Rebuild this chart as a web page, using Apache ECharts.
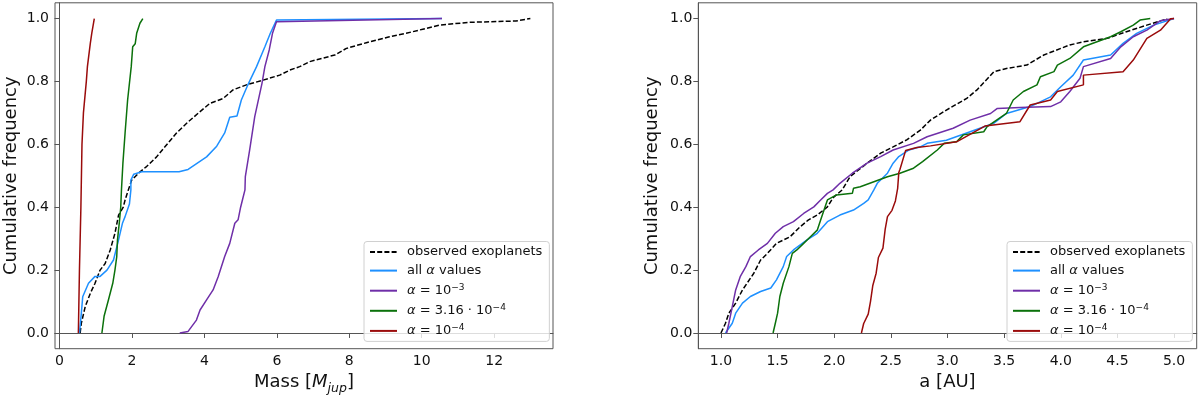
<!DOCTYPE html>
<html><head><meta charset="utf-8">
<script src="https://cdn.jsdelivr.net/npm/echarts@6/dist/echarts.min.js"></script>
<style>html,body{margin:0;padding:0;background:#fff}#c{width:1200px;height:396px}</style>
</head><body><div id="c"></div>
<script>
// ---- data ----
const seriesNames = ['observed exoplanets','all α values','α = 10^-3','α = 3.16·10^-4','α = 10^-4'];
const yTicks = [0, 0.2, 0.4, 0.6, 0.8, 1.0];
const massTicks = [0, 2, 4, 6, 8, 10, 12];
const aTicks = [1.0, 1.5, 2.0, 2.5, 3.0, 3.5, 4.0, 4.5, 5.0];

// Left panel: mass [M_jup] vs cumulative frequency
const obsMass = [[0.57,0],[0.60,0.03],[0.71,0.084],[0.85,0.126],[0.98,0.158],[1.12,0.2],[1.26,0.221],[1.40,0.264],[1.53,0.317],[1.63,0.375],[1.76,0.40],[1.81,0.423],[1.90,0.455],[1.99,0.486],[2.18,0.508],[2.41,0.53],[2.68,0.56],[2.91,0.592],[3.23,0.636],[3.51,0.667],[3.83,0.699],[4.15,0.73],[4.52,0.746],[4.79,0.773],[5.16,0.789],[5.62,0.804],[6.08,0.82],[6.36,0.836],[6.63,0.847],[6.91,0.863],[7.60,0.884],[7.92,0.905],[8.47,0.923],[9.11,0.942],[9.57,0.953],[10.03,0.966],[10.49,0.979],[11.31,0.988],[12.6,0.992],[13.0,1.0]];
const allMass = [[0.55,0],[0.60,0.06],[0.64,0.115],[0.80,0.158],[0.98,0.18],[1.12,0.18],[1.31,0.2],[1.49,0.232],[1.63,0.296],[1.74,0.35],[1.81,0.37],[1.93,0.41],[1.97,0.455],[1.97,0.486],[2.05,0.505],[2.27,0.513],[3.3,0.513],[3.55,0.52],[4.06,0.56],[4.34,0.594],[4.56,0.636],[4.70,0.686],[4.9,0.69],[5.02,0.741],[5.18,0.784],[5.44,0.847],[5.67,0.91],[5.82,0.953],[5.99,0.995],[10.56,1.0]];
const m3Mass = [[3.32,0],[3.55,0.005],[3.78,0.041],[3.88,0.073],[4.06,0.105],[4.24,0.137],[4.38,0.179],[4.56,0.243],[4.70,0.285],[4.84,0.349],[4.93,0.36],[5.0,0.40],[5.05,0.423],[5.12,0.455],[5.13,0.497],[5.25,0.582],[5.39,0.688],[5.59,0.794],[5.67,0.847],[5.79,0.9],[5.88,0.953],[5.99,0.99],[10.56,1.0]];
const m35Mass = [[1.17,0],[1.23,0.053],[1.35,0.105],[1.47,0.158],[1.53,0.2],[1.58,0.243],[1.60,0.296],[1.65,0.35],[1.69,0.40],[1.71,0.455],[1.75,0.54],[1.81,0.636],[1.88,0.741],[1.98,0.847],[2.02,0.91],[2.09,0.92],[2.13,0.953],[2.22,0.985],[2.30,1.0]];
const m4Mass = [[0.52,0],[0.55,0.2],[0.59,0.4],[0.62,0.6],[0.66,0.7],[0.74,0.8],[0.77,0.847],[0.85,0.921],[0.89,0.953],[0.96,1.0]];

// Right panel: a [AU] vs cumulative frequency
const obsA = [[1.0,0],[1.04,0.031],[1.07,0.063],[1.13,0.095],[1.19,0.137],[1.23,0.158],[1.29,0.19],[1.35,0.232],[1.41,0.253],[1.49,0.285],[1.61,0.306],[1.70,0.338],[1.77,0.359],[1.85,0.375],[1.94,0.401],[1.99,0.43],[2.07,0.455],[2.14,0.497],[2.29,0.54],[2.41,0.572],[2.52,0.592],[2.64,0.614],[2.76,0.645],[2.85,0.677],[2.99,0.709],[3.17,0.746],[3.26,0.773],[3.41,0.831],[3.52,0.841],[3.70,0.852],[3.85,0.884],[4.08,0.916],[4.20,0.926],[4.41,0.937],[4.58,0.958],[4.76,0.979],[4.94,0.999]];
const allA = [[1.04,0],[1.10,0.031],[1.13,0.063],[1.19,0.095],[1.26,0.116],[1.35,0.132],[1.44,0.143],[1.49,0.169],[1.55,0.211],[1.58,0.243],[1.64,0.264],[1.76,0.296],[1.85,0.317],[1.94,0.354],[2.05,0.375],[2.17,0.391],[2.26,0.412],[2.30,0.423],[2.35,0.455],[2.38,0.476],[2.47,0.508],[2.52,0.54],[2.57,0.561],[2.66,0.582],[2.76,0.592],[2.82,0.603],[2.99,0.613],[3.20,0.64],[3.41,0.667],[3.52,0.698],[3.73,0.72],[3.91,0.751],[4.00,0.783],[4.11,0.82],[4.20,0.868],[4.44,0.884],[4.55,0.921],[4.67,0.953],[4.82,0.979],[5.0,1.0]];
const m3A = [[1.05,0],[1.07,0.031],[1.10,0.084],[1.13,0.137],[1.17,0.179],[1.22,0.211],[1.26,0.243],[1.33,0.264],[1.41,0.285],[1.48,0.317],[1.55,0.338],[1.64,0.354],[1.73,0.38],[1.82,0.401],[1.88,0.423],[1.94,0.444],[1.99,0.455],[2.05,0.476],[2.16,0.508],[2.29,0.54],[2.41,0.561],[2.52,0.582],[2.70,0.603],[2.82,0.624],[3.05,0.651],[3.20,0.677],[3.38,0.698],[3.44,0.714],[3.64,0.717],[3.91,0.72],[4.00,0.735],[4.08,0.768],[4.17,0.81],[4.20,0.847],[4.44,0.873],[4.53,0.91],[4.64,0.942],[4.76,0.963],[4.88,0.993],[5.0,1.0]];
const m35A = [[1.46,0],[1.48,0.031],[1.50,0.063],[1.52,0.116],[1.55,0.158],[1.60,0.211],[1.63,0.253],[1.67,0.264],[1.73,0.285],[1.79,0.306],[1.85,0.327],[1.88,0.359],[1.91,0.391],[1.94,0.423],[2.02,0.439],[2.16,0.444],[2.17,0.46],[2.23,0.465],[2.47,0.497],[2.58,0.508],[2.70,0.524],[2.78,0.545],[2.91,0.582],[2.97,0.603],[3.08,0.608],[3.14,0.63],[3.32,0.64],[3.35,0.656],[3.52,0.698],[3.58,0.741],[3.67,0.768],[3.79,0.789],[3.82,0.815],[3.94,0.831],[3.97,0.852],[4.08,0.873],[4.20,0.91],[4.32,0.926],[4.44,0.942],[4.53,0.958],[4.64,0.979],[4.70,0.995],[4.79,1.0]];
const m4A = [[2.24,0],[2.26,0.03],[2.30,0.06],[2.32,0.10],[2.34,0.15],[2.37,0.19],[2.39,0.24],[2.43,0.27],[2.45,0.33],[2.47,0.37],[2.51,0.39],[2.54,0.42],[2.56,0.46],[2.57,0.51],[2.58,0.52],[2.63,0.58],[2.73,0.59],[2.85,0.595],[3.08,0.608],[3.33,0.658],[3.64,0.672],[3.73,0.725],[3.91,0.741],[3.97,0.768],[4.20,0.789],[4.20,0.82],[4.55,0.831],[4.64,0.868],[4.76,0.937],[4.88,0.963],[4.97,0.999],[5.0,1.0]];

// ---- styling ----
const colors = ['#000000','#1e90ff','#6f2fa8','#0b710b','#9a0b0b'];
const FONT = 'DejaVu Sans';
const frame = '#555';

const legendRich = {
  i: {fontStyle:'italic', fontSize:13, fontFamily:FONT, color:'#111', lineHeight:16},
  n: {fontSize:13, fontFamily:FONT, color:'#111', lineHeight:16},
  sup: {fontSize:9, fontFamily:FONT, color:'#111', verticalAlign:'top', lineHeight:16}
};
function legendFmt(name){
  if (name === seriesNames[0]) return '{n|observed exoplanets}';
  if (name === seriesNames[1]) return '{n|all }{i|α}{n| values}';
  if (name === seriesNames[2]) return '{i|α}{n| = 10}{sup|−3}';
  if (name === seriesNames[3]) return '{i|α}{n| = 3.16 · 10}{sup|−4}';
  return '{i|α}{n| = 10}{sup|−4}';
}
function mkLegend(left){
  return {
    orient:'vertical', left:left, top:241.5, data:seriesNames,
    itemWidth:27, itemHeight:14, itemGap:5.6,
    padding:[4,7,4,5], borderColor:'#d0d0d0', borderWidth:1, borderRadius:3,
    backgroundColor:'rgba(255,255,255,0.8)', selectedMode:false,
    itemStyle:{opacity:0},
    formatter:legendFmt,
    textStyle:{fontFamily:FONT, fontSize:13, color:'#111', padding:[0,0,0,5], rich:legendRich}
  };
}
function mkX(idx, min, max, ticks, name, fmt, rich){
  return {
    type:'value', gridIndex:idx, min:min, max:max,
    name:name, nameLocation:'middle', nameGap:19,
    nameTextStyle:{fontFamily:FONT, fontSize:18, color:'#111', rich:rich},
    axisLine:{show:true, lineStyle:{color:frame, width:1}},
    axisTick:{show:true, length:5, customValues:ticks, lineStyle:{color:frame}},
    axisLabel:{customValues:ticks, margin:6, fontFamily:FONT, fontSize:14, color:'#111', formatter:fmt, hideOverlap:false},
    splitLine:{show:false}
  };
}
function mkY(idx, gap){
  return {
    type:'value', gridIndex:idx, min:-0.05, max:1.05,
    name:'Cumulative frequency', nameLocation:'middle', nameGap:gap, nameRotate:90,
    nameTextStyle:{fontFamily:FONT, fontSize:18, color:'#111'},
    axisLine:{show:true, lineStyle:{color:frame, width:1}},
    axisTick:{show:true, length:5, customValues:yTicks, lineStyle:{color:frame}},
    axisLabel:{customValues:yTicks, margin:6, fontFamily:FONT, fontSize:14, color:'#111', formatter:v=>v.toFixed(1), hideOverlap:false},
    splitLine:{show:false}
  };
}
function mkSeries(name, data, k, idx){
  return {
    type:'line', name:name, data:data, xAxisIndex:idx, yAxisIndex:idx,
    symbol:'none', smooth:false, animation:false,
    lineStyle:{color:colors[k], width:1.5, type: k===0 ? [5,2.2] : 'solid'},
    itemStyle:{color:colors[k]}
  };
}
const leftData = [obsMass, allMass, m3Mass, m35Mass, m4Mass];
const rightData = [obsA, allA, m3A, m35A, m4A];
const series = [];
leftData.forEach((d,k)=>series.push(mkSeries(seriesNames[k], d, k, 0)));
rightData.forEach((d,k)=>series.push(mkSeries(seriesNames[k], d, k, 1)));

const massRich = {
  n:{fontFamily:FONT, fontSize:18, color:'#111', lineHeight:22},
  i:{fontFamily:FONT, fontSize:18, fontStyle:'italic', color:'#111', lineHeight:22},
  s:{fontFamily:FONT, fontSize:12.5, fontStyle:'italic', color:'#111', lineHeight:22, verticalAlign:'bottom', padding:[0,0,-2,0]}
};

const option = {
  backgroundColor:'#fff',
  animation:false,
  grid:[
    {left:55, top:2.8, width:498, height:345.9, show:true, borderColor:frame, borderWidth:1, backgroundColor:'transparent', containLabel:false, outerBoundsMode:'none'},
    {left:698.3, top:2.8, width:498.4, height:345.9, show:true, borderColor:frame, borderWidth:1, backgroundColor:'transparent', containLabel:false, outerBoundsMode:'none'}
  ],
  xAxis:[
    mkX(0, -0.125, 13.625, massTicks, '{n|Mass [}{i|M}{s|jup}{n|]}', v=>String(v), massRich),
    mkX(1, 0.8, 5.2, aTicks, 'a [AU]', v=>v.toFixed(1), null)
  ],
  yAxis:[mkY(0, 35), mkY(1, 37)],
  legend:[mkLegend(364), mkLegend(1007)],
  series:series
};
const chart = echarts.init(document.getElementById('c'), null, {renderer:'canvas'});
chart.setOption(option);
</script></body></html>
